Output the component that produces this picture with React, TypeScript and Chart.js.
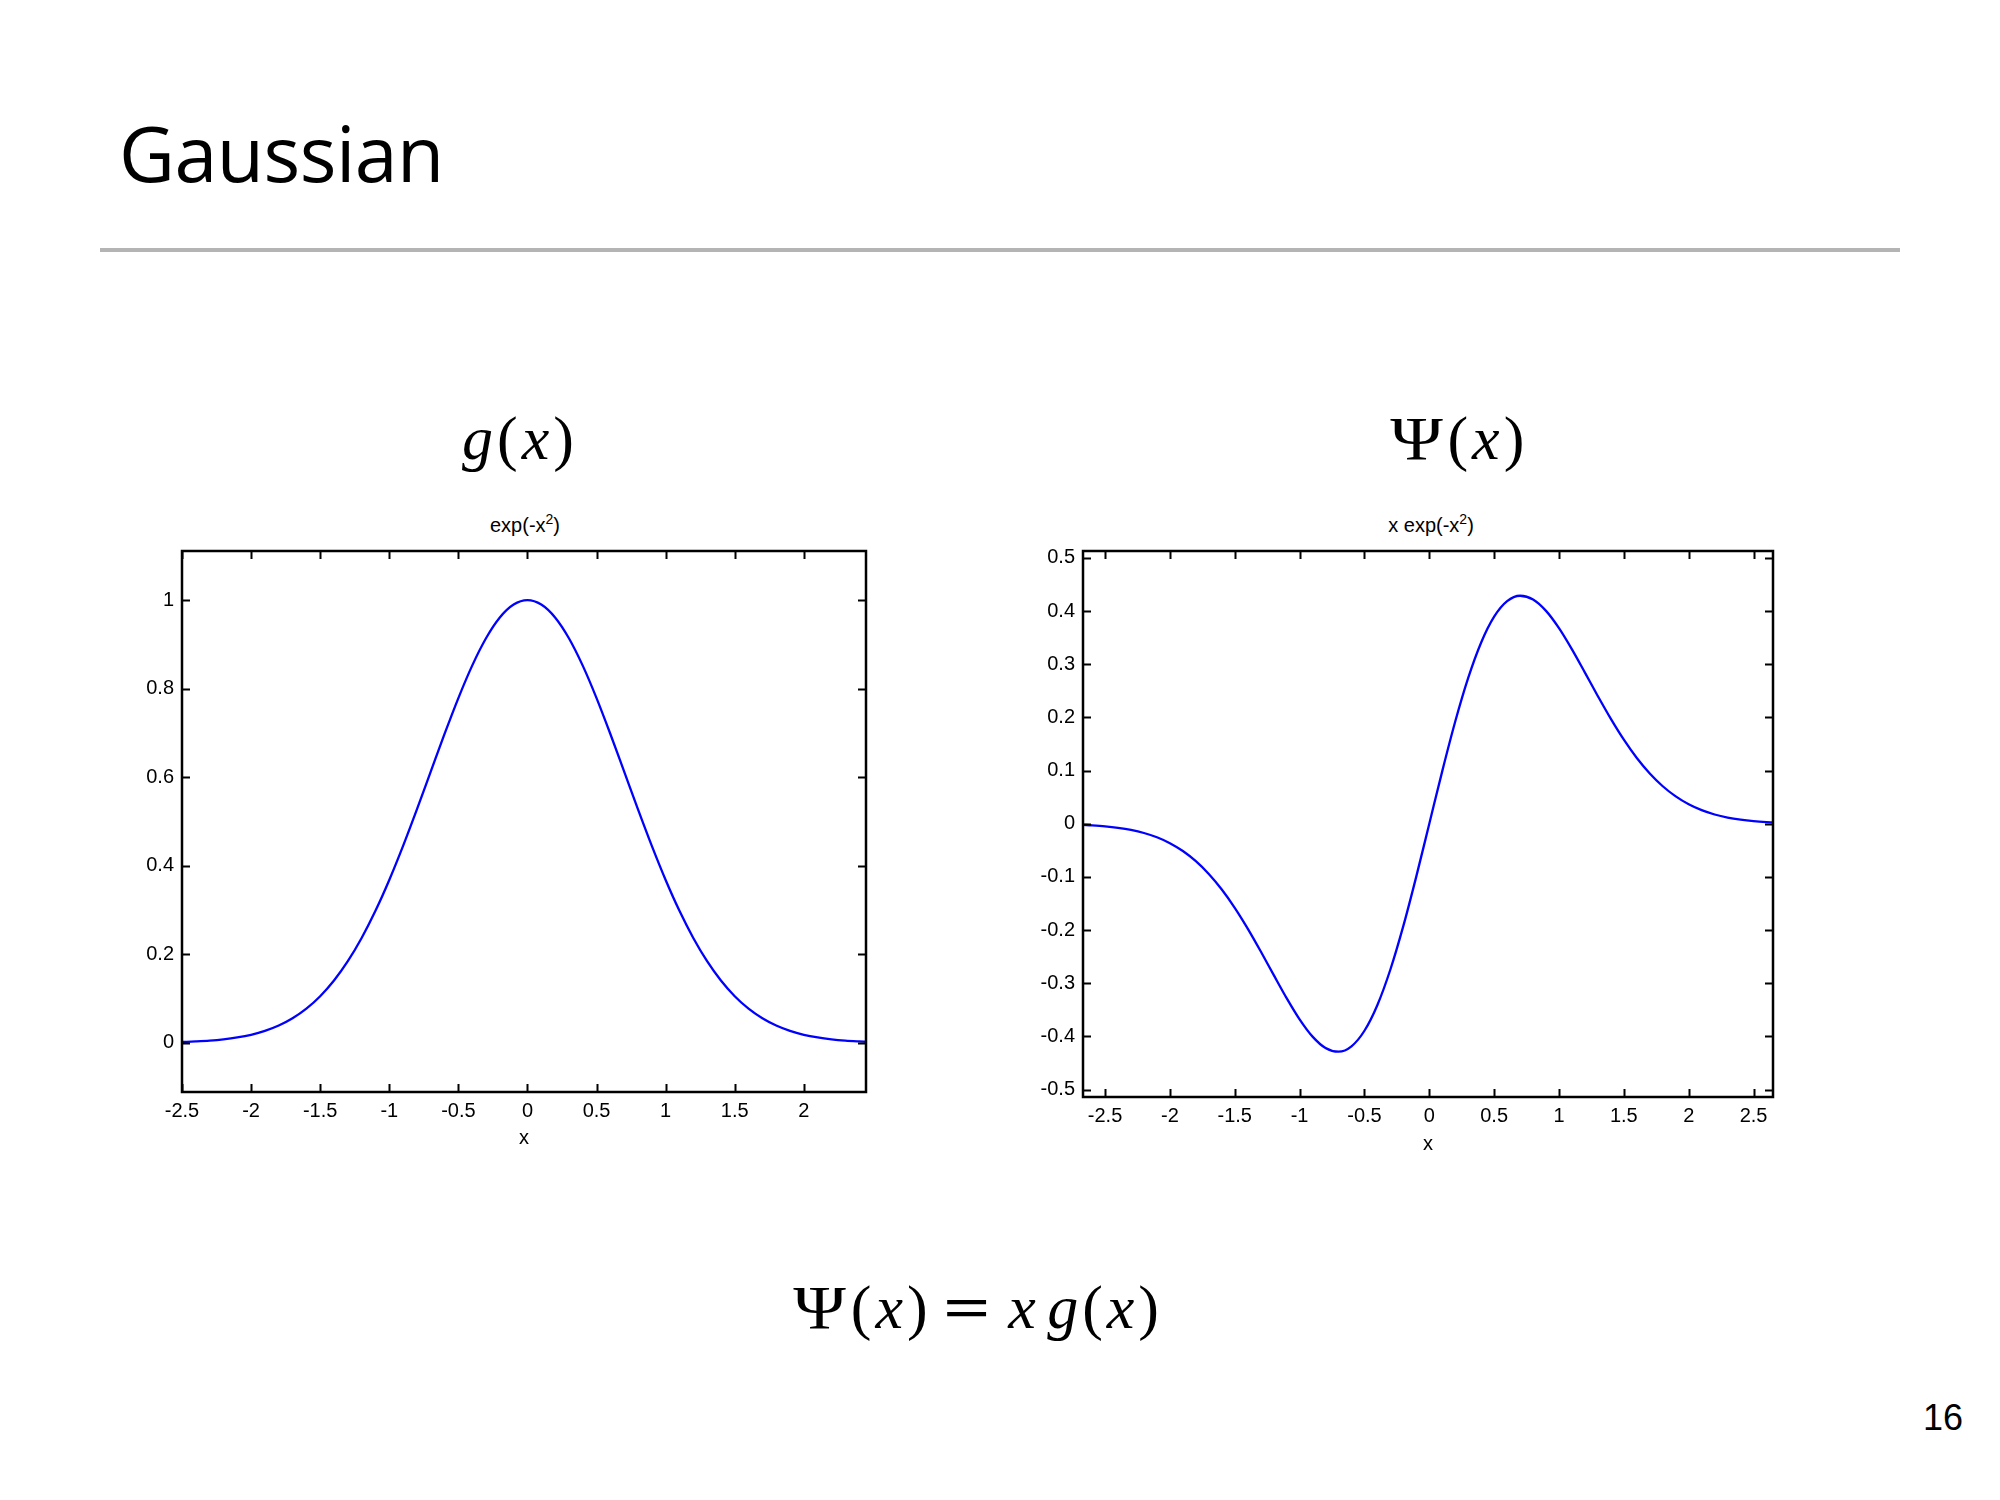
import React, { useEffect, useRef } from 'react';
import { Chart, registerables } from 'chart.js';

Chart.register(...registerables);

// ---- data ----
const gaussX = [
  -2.5, -2.4, -2.3, -2.2, -2.1, -2.0, -1.9, -1.8, -1.7, -1.6, -1.5, -1.4, -1.3, -1.2, -1.1,
  -1.0, -0.9, -0.8, -0.7, -0.6, -0.5, -0.4, -0.3, -0.2, -0.1, 0.0, 0.1, 0.2, 0.3, 0.4, 0.5,
  0.6, 0.7, 0.8, 0.9, 1.0, 1.1, 1.2, 1.3, 1.4, 1.5, 1.6, 1.7, 1.8, 1.9, 2.0, 2.1, 2.2, 2.3,
  2.4, 2.45,
];
const gaussY = [
  0.0019, 0.0032, 0.005, 0.0079, 0.0122, 0.0183, 0.0271, 0.0392, 0.0556, 0.0773, 0.1054,
  0.1409, 0.1845, 0.2369, 0.2982, 0.3679, 0.4449, 0.5273, 0.6126, 0.6977, 0.7788, 0.8521,
  0.9139, 0.9608, 0.99, 1.0, 0.99, 0.9608, 0.9139, 0.8521, 0.7788, 0.6977, 0.6126, 0.5273,
  0.4449, 0.3679, 0.2982, 0.2369, 0.1845, 0.1409, 0.1054, 0.0773, 0.0556, 0.0392, 0.0271,
  0.0183, 0.0122, 0.0079, 0.005, 0.0032, 0.0025,
];
const psiX = [
  -2.67, -2.6, -2.5, -2.4, -2.3, -2.2, -2.1, -2.0, -1.9, -1.8, -1.7, -1.6, -1.5, -1.4, -1.3,
  -1.2, -1.1, -1.0, -0.9, -0.8, -0.7, -0.6, -0.5, -0.4, -0.3, -0.2, -0.1, 0.0, 0.1, 0.2, 0.3,
  0.4, 0.5, 0.6, 0.7, 0.8, 0.9, 1.0, 1.1, 1.2, 1.3, 1.4, 1.5, 1.6, 1.7, 1.8, 1.9, 2.0, 2.1,
  2.2, 2.3, 2.4, 2.5, 2.6, 2.65,
];
const psiY = [
  -0.0021, -0.003, -0.0048, -0.0076, -0.0116, -0.0174, -0.0255, -0.0366, -0.0514, -0.0705,
  -0.0945, -0.1237, -0.1581, -0.1972, -0.2399, -0.2843, -0.328, -0.3679, -0.4004, -0.4218,
  -0.4288, -0.4186, -0.3894, -0.3409, -0.2742, -0.1922, -0.099, 0.0, 0.099, 0.1922, 0.2742,
  0.3409, 0.3894, 0.4186, 0.4288, 0.4218, 0.4004, 0.3679, 0.328, 0.2843, 0.2399, 0.1972,
  0.1581, 0.1237, 0.0945, 0.0705, 0.0514, 0.0366, 0.0255, 0.0174, 0.0116, 0.0076, 0.0048,
  0.003, 0.0024,
];
const gaussXTicks = [-2.5, -2, -1.5, -1, -0.5, 0, 0.5, 1, 1.5, 2];
const gaussYTicks = [0, 0.2, 0.4, 0.6, 0.8, 1];
const psiXTicks = [-2.5, -2, -1.5, -1, -0.5, 0, 0.5, 1, 1.5, 2, 2.5];
const psiYTicks = [-0.5, -0.4, -0.3, -0.2, -0.1, 0, 0.1, 0.2, 0.3, 0.4, 0.5];
const gaussXRange = [-2.5, 2.45];
const gaussYRange = [-0.111, 1.111];
const psiXRange = [-2.67, 2.65];
const psiYRange = [-0.514, 0.513];

const SANS = '"Liberation Sans", Arial, sans-serif';
const SERIF = '"Liberation Serif", "Times New Roman", serif';
const TICK_LEN = 8;

const frameTicks = {
  id: 'frameTicks',
  afterDatasetsDraw(chart: any) {
    const { ctx, chartArea: a, scales } = chart;
    const xs = scales.x;
    const ys = scales.y;
    ctx.save();
    ctx.strokeStyle = '#000';
    ctx.lineWidth = 2;
    ctx.beginPath();
    for (const t of xs.ticks) {
      const px = Math.round(xs.getPixelForValue(t.value)) + 0.5;
      ctx.moveTo(px, a.bottom);
      ctx.lineTo(px, a.bottom - TICK_LEN);
      ctx.moveTo(px, a.top);
      ctx.lineTo(px, a.top + TICK_LEN);
    }
    for (const t of ys.ticks) {
      const py = Math.round(ys.getPixelForValue(t.value)) + 0.5;
      ctx.moveTo(a.left, py);
      ctx.lineTo(a.left + TICK_LEN, py);
      ctx.moveTo(a.right, py);
      ctx.lineTo(a.right - TICK_LEN, py);
    }
    ctx.stroke();
    ctx.lineWidth = 2.5;
    ctx.strokeRect(a.left, a.top, a.right - a.left, a.bottom - a.top);
    ctx.restore();
  },
};

type PlotProps = {
  xs: number[];
  ys: number[];
  xTicks: number[];
  yTicks: number[];
  xRange: number[];
  yRange: number[];
  left: number;
  top: number;
  width: number;
  height: number;
  padRight: number;
  padTop: number;
  yAxisWidth: number;
  xAxisHeight: number;
  xTitlePad: number;
};

function Plot(p: PlotProps) {
  const ref = useRef<HTMLCanvasElement | null>(null);
  useEffect(() => {
    if (!ref.current) return;
    const tickFont = { family: SANS, size: 20 };
    const chart = new Chart(ref.current, {
      type: 'line',
      data: {
        datasets: [
          {
            data: p.xs.map((x, i) => ({ x, y: p.ys[i] })),
            borderColor: '#0000ff',
            borderWidth: 2.3,
            pointRadius: 0,
            fill: false,
            cubicInterpolationMode: 'monotone',
          },
        ],
      },
      options: {
        animation: false,
        responsive: false,
        maintainAspectRatio: false,
        devicePixelRatio: 1,
        layout: { padding: { left: 0, right: p.padRight, top: p.padTop, bottom: 0 } },
        plugins: { legend: { display: false }, tooltip: { enabled: false }, title: { display: false } },
        scales: {
          x: {
            type: 'linear',
            min: p.xRange[0],
            max: p.xRange[1],
            afterBuildTicks: (s: any) => {
              s.ticks = p.xTicks.map((v) => ({ value: v }));
            },
            afterFit: (s: any) => {
              s.height = p.xAxisHeight;
            },
            grid: { display: false, drawTicks: false },
            border: { display: false },
            ticks: {
              font: tickFont,
              color: '#000',
              padding: 7,
              maxRotation: 0,
              autoSkip: false,
              callback: (v: any) => String(v),
            },
            title: {
              display: true,
              text: 'x',
              color: '#000',
              font: tickFont,
              padding: { top: 0, bottom: p.xTitlePad },
            },
          },
          y: {
            type: 'linear',
            min: p.yRange[0],
            max: p.yRange[1],
            afterBuildTicks: (s: any) => {
              s.ticks = p.yTicks.map((v) => ({ value: v }));
            },
            afterFit: (s: any) => {
              s.width = p.yAxisWidth;
            },
            grid: { display: false, drawTicks: false },
            border: { display: false },
            ticks: {
              font: tickFont,
              color: '#000',
              padding: 8,
              autoSkip: false,
              callback: (v: any) => String(v),
            },
          },
        },
      } as any,
      plugins: [frameTicks],
    } as any);
    return () => chart.destroy();
  }, []);
  return (
    <canvas
      ref={ref}
      width={p.width}
      height={p.height}
      style={{ position: 'absolute', left: p.left, top: p.top, width: p.width, height: p.height }}
    />
  );
}

function Centered(props: { cx: number; top: number; size: number; family: string; children: any; spacing?: number }) {
  return (
    <div
      style={{
        position: 'absolute',
        left: props.cx - 400,
        width: 800,
        top: props.top,
        textAlign: 'center',
        fontFamily: props.family,
        fontSize: props.size,
        lineHeight: props.size + 'px',
        color: '#000',
        whiteSpace: 'nowrap',
        letterSpacing: props.spacing ?? 0,
      }}
    >
      {props.children}
    </div>
  );
}

const sup = { fontSize: 14, position: 'relative' as const, top: -8 };

export default function App() {
  return (
    <div
      style={{
        position: 'absolute',
        left: 0,
        top: 0,
        width: 2000,
        height: 1500,
        background: '#fff',
        overflow: 'hidden',
      }}
    >
      <div
        style={{
          position: 'absolute',
          left: 119,
          top: 114,
          fontFamily: '"Open Sans", "Noto Sans", sans-serif',
          fontSize: 77,
          lineHeight: '77px',
          color: '#000',
          whiteSpace: 'nowrap',
          letterSpacing: -0.5,
        }}
      >
        Gaussian
      </div>
      <div style={{ position: 'absolute', left: 100, top: 248, width: 1800, height: 4, background: '#b4b4b4' }} />

      <Centered cx={520} top={407} size={62} family={SERIF} spacing={4}>
        <i>g</i>(<i>x</i>)
      </Centered>
      <Centered cx={1461} top={407} size={62} family={SERIF} spacing={4}>
        <span style={{ display: 'inline-block', transform: 'scaleX(1.15)', marginRight: 4 }}>Ψ</span>(<i>x</i>)
      </Centered>

      <Centered cx={525} top={515} size={20} family={SANS}>
        exp(-x<span style={sup}>2</span>)
      </Centered>
      <Centered cx={1431} top={515} size={20} family={SANS}>
        x exp(-x<span style={sup}>2</span>)
      </Centered>

      <Plot
        xs={gaussX}
        ys={gaussY}
        xTicks={gaussXTicks}
        yTicks={gaussYTicks}
        xRange={gaussXRange}
        yRange={gaussYRange}
        left={100}
        top={500}
        width={800}
        height={680}
        padRight={34}
        padTop={51}
        yAxisWidth={82}
        xAxisHeight={88}
        xTitlePad={30}
      />
      <Plot
        xs={psiX}
        ys={psiY}
        xTicks={psiXTicks}
        yTicks={psiYTicks}
        xRange={psiXRange}
        yRange={psiYRange}
        left={1000}
        top={500}
        width={800}
        height={680}
        padRight={27}
        padTop={51}
        yAxisWidth={83}
        xAxisHeight={83}
        xTitlePad={24}
      />

      <Centered cx={980} top={1276} size={62} family={SERIF} spacing={4}>
        <span style={{ display: 'inline-block', transform: 'scaleX(1.15)', marginRight: 4 }}>Ψ</span>(<i>x</i>)
        <span style={{ display: 'inline-block', margin: '0 0.3em', transform: 'scaleX(1.35)', fontWeight: 'bold' }}>=</span>
        <i>x</i>
        <span style={{ marginLeft: '0.12em' }} />
        <i>g</i>(<i>x</i>)
      </Centered>

      <div
        style={{
          position: 'absolute',
          left: 1923,
          top: 1400,
          fontFamily: SANS,
          fontSize: 36,
          lineHeight: '36px',
          color: '#000',
          whiteSpace: 'nowrap',
        }}
      >
        16
      </div>
    </div>
  );
}
